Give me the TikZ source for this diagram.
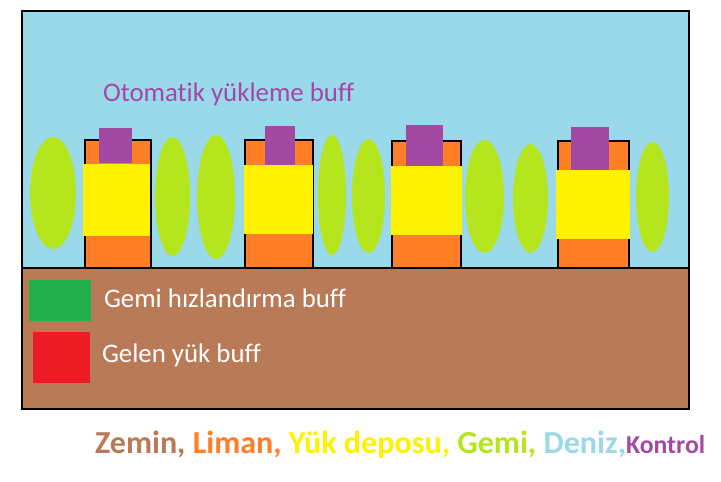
\documentclass[tikz,border=0pt]{standalone}
\usepackage{fontspec}
\setmainfont{Carlito}[Ligatures=NoCommon]
\definecolor{zemin}{RGB}{185,122,87}
\definecolor{liman}{RGB}{255,127,39}
\definecolor{depo}{RGB}{255,242,0}
\definecolor{gemi}{RGB}{181,230,29}
\definecolor{deniz}{RGB}{153,217,234}
\definecolor{kontrol}{RGB}{163,73,164}
\definecolor{hizyesil}{RGB}{34,177,76}
\definecolor{gelenkirmizi}{RGB}{237,28,36}
\usetikzlibrary{positioning}

\begin{document}
\begin{tikzpicture}[x=0.03cm, y=-0.03cm, every node/.style={inner sep=0pt, outer sep=0pt}]
  \useasboundingbox (0,0) rectangle (721,482);
  \tikzset{liman kutu/.style={fill=liman, draw=black, line width=2.4pt}}

  % Deniz ve zemin
  \fill[deniz] (22,11) rectangle (689,268);
  \fill[zemin] (22,268) rectangle (689,409);

  % Gemiler
  \fill[gemi] (53,193) ellipse [x radius=23, y radius=56];
  \fill[gemi] (172.5,196.5) ellipse [x radius=17.5, y radius=59.5];
  \fill[gemi] (216,197) ellipse [x radius=19, y radius=62];
  \fill[gemi] (332,195) ellipse [x radius=14, y radius=60];
  \fill[gemi] (368.5,196) ellipse [x radius=16.5, y radius=57];
  \fill[gemi] (484.5,196.5) ellipse [x radius=19.5, y radius=56.5];
  \fill[gemi] (530.5,198.5) ellipse [x radius=17.5, y radius=54.5];
  \fill[gemi] (652.5,197) ellipse [x radius=16.5, y radius=55];

  % Limanlar
  \filldraw[liman kutu] (85,140) rectangle (151,268);
  \fill[depo] (83,164) rectangle (150,236);
  \fill[kontrol] (99,128) rectangle (132,163);

  \filldraw[liman kutu] (245,140) rectangle (313,268);
  \fill[depo] (244,165) rectangle (313,234);
  \fill[kontrol] (265,126) rectangle (295,165);

  \filldraw[liman kutu] (392,141) rectangle (461,268);
  \fill[depo] (391,166) rectangle (462,235);
  \fill[kontrol] (406,125) rectangle (443,166);

  \filldraw[liman kutu] (558,141) rectangle (629,268);
  \fill[depo] (556,170) rectangle (630,239);
  \fill[kontrol] (571,127) rectangle (609,170);

  % Cerceve
  \draw[line width=2.4pt] (22,268) -- (689,268);
  \draw[line width=2.4pt] (22,11) rectangle (689,409);

  % Buff aciklamalari
  \node[anchor=base west, text=kontrol, font=\fontsize{22.9pt}{26pt}\selectfont] (otomatik) at (103,102) {Otomatik yükleme buff};
  \fill[hizyesil] (29,280) rectangle (91,321);
  \fill[gelenkirmizi] (33,332) rectangle (90,383);
  \node[anchor=base west, text=white, font=\fontsize{22.9pt}{26pt}\selectfont] (hizlandirma) at (104,308) {Gemi hızlandırma buff};
  \node[anchor=base west, text=white, font=\fontsize{22.9pt}{26pt}\selectfont] (gelen) at (102,362) {Gelen yük buff};

  % Renk anahtari
  \node[anchor=base west, font=\fontsize{27.4pt}{30pt}\selectfont\bfseries] (anahtar) at (95,453)
    {\textcolor{zemin}{Zemin,} \textcolor{liman}{Liman,} \textcolor{depo}{Yük deposu,} \textcolor{gemi}{Gemi,} \textcolor{deniz}{Deniz,}\textcolor{kontrol}{\fontsize{22pt}{24pt}\selectfont Kontrol}};
\end{tikzpicture}
\end{document}
